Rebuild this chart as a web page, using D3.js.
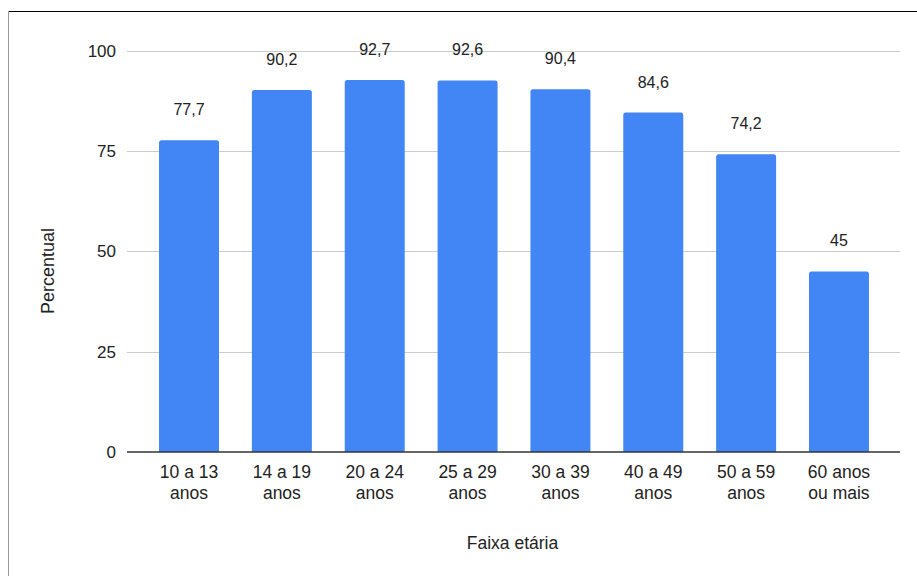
<!DOCTYPE html>
<html>
<head>
<meta charset="utf-8">
<script src="https://cdn.jsdelivr.net/npm/d3@7"></script>
<style>
  html, body { margin: 0; padding: 0; background: #fff; }
  svg text { font-family: "Liberation Sans", Arial, sans-serif; fill: #222; }
</style>
</head>
<body>
<svg id="chart" width="917" height="576"></svg>
<script>
// Faixas etárias e percentuais
const categories = [
  ["10 a 13", "anos"],
  ["14 a 19", "anos"],
  ["20 a 24", "anos"],
  ["25 a 29", "anos"],
  ["30 a 39", "anos"],
  ["40 a 49", "anos"],
  ["50 a 59", "anos"],
  ["60 anos", "ou mais"]
];
const values = [77.7, 90.2, 92.7, 92.6, 90.4, 84.6, 74.2, 45];
const valueLabels = ["77,7", "90,2", "92,7", "92,6", "90,4", "84,6", "74,2", "45"];
const yTicks = [0, 25, 50, 75, 100];

const svg = d3.select("#chart");

// frame
svg.append("line").attr("x1", 8).attr("x2", 917).attr("y1", 11.5).attr("y2", 11.5)
  .attr("stroke", "#000").attr("stroke-width", 1.2);
svg.append("line").attr("x1", 8.5).attr("x2", 8.5).attr("y1", 11).attr("y2", 576)
  .attr("stroke", "#9a9a9a").attr("stroke-width", 1);

const plot = { left: 127, right: 900, top: 50.7, bottom: 452 };

const x = d3.scaleBand()
  .domain(d3.range(categories.length))
  .range([142.6, 885.4])
  .paddingInner(0.354)
  .paddingOuter(0.177);

const y = d3.scaleLinear().domain([0, 100]).range([plot.bottom, plot.top]);

// grid lines
svg.append("g").selectAll("line").data(yTicks.filter(d => d > 0)).join("line")
  .attr("x1", plot.left).attr("x2", plot.right)
  .attr("y1", d => Math.round(y(d)) + 0.5).attr("y2", d => Math.round(y(d)) + 0.5)
  .attr("stroke", "#cccccc").attr("stroke-width", 1);

// y tick labels
svg.append("g").selectAll("text").data(yTicks).join("text")
  .attr("x", 116).attr("y", d => y(d) + 6)
  .attr("text-anchor", "end").attr("font-size", 17)
  .text(d => d);

// bars with slightly rounded tops
const r = 2.5;
svg.append("g").selectAll("path").data(values).join("path")
  .attr("fill", "#4285f4")
  .attr("d", (d, i) => {
    const x0 = x(i), w = x.bandwidth(), yt = y(d), yb = y(0);
    return `M${x0},${yb}V${yt + r}Q${x0},${yt} ${x0 + r},${yt}H${x0 + w - r}Q${x0 + w},${yt} ${x0 + w},${yt + r}V${yb}Z`;
  });

// baseline
svg.append("line").attr("x1", plot.left).attr("x2", plot.right)
  .attr("y1", plot.bottom).attr("y2", plot.bottom)
  .attr("stroke", "#333").attr("stroke-width", 1.3);

// value labels
svg.append("g").selectAll("text").data(values).join("text")
  .attr("x", (d, i) => x(i) + x.bandwidth() / 2)
  .attr("y", d => y(d) - 25)
  .attr("text-anchor", "middle").attr("font-size", 16)
  .text((d, i) => valueLabels[i]);

// category labels
const cat = svg.append("g").selectAll("text").data(categories).join("text")
  .attr("text-anchor", "middle").attr("font-size", 17.5)
  .attr("transform", (d, i) => `translate(${x(i) + x.bandwidth() / 2},478)`);
cat.selectAll("tspan").data(d => d).join("tspan")
  .attr("x", 0).attr("dy", (d, j) => j === 0 ? 0 : 21)
  .text(d => d);

// axis titles
svg.append("text").attr("x", 512.5).attr("y", 549)
  .attr("text-anchor", "middle").attr("font-size", 17.5).text("Faixa etária");
svg.append("text")
  .attr("transform", "translate(54,271) rotate(-90)")
  .attr("text-anchor", "middle").attr("font-size", 18).text("Percentual");
</script>
</body>
</html>
